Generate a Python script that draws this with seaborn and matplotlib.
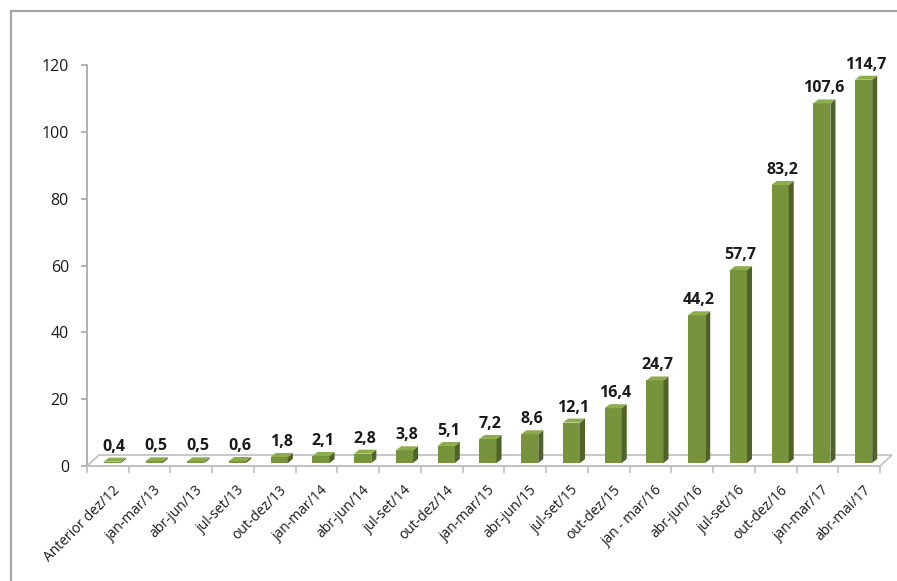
import matplotlib
matplotlib.use("Agg")
import matplotlib.pyplot as plt
import seaborn as sns
import pandas as pd
from matplotlib.patches import Polygon, Rectangle
from matplotlib.transforms import IdentityTransform, ScaledTranslation

# ---- data -------------------------------------------------------------
periods = ["Anterior dez/12", "jan-mar/13", "abr-jun/13", "jul-set/13", "out-dez/13",
           "jan-mar/14", "abr-jun/14", "jul-set/14", "out-dez/14",
           "jan-mar/15", "abr-jun/15", "jul-set/15", "out-dez/15",
           "jan - mar/16", "abr-jun/16", "jul-set/16", "out-dez/16",
           "jan-mar/17", "abr-mai/17"]
values = [0.4, 0.5, 0.5, 0.6, 1.8, 2.1, 2.8, 3.8, 5.1, 7.2, 8.6, 12.1, 16.4,
          24.7, 44.2, 57.7, 83.2, 107.6, 114.7]
y_ticks = [0, 20, 40, 60, 80, 100, 120]

# ---- style ------------------------------------------------------------
FRONT = "#77933C"
SIDE = "#4F6228"
TOP = "#8CAD4B"
GREY = "#A6A6A6"
FLOOR = "#BFBFBF"
TEXT = "#1A1A1A"

sns.set_theme(style="white")
plt.rcParams["font.family"] = ["Open Sans", "DejaVu Sans"]

W, H = 897, 581
DPI = 100
fig = plt.figure(figsize=(W / DPI, H / DPI), dpi=DPI)
ax = fig.add_axes([87 / W, 1 - 466 / H, 793 / W, 401 / H])
ax.patch.set_alpha(0)

df = pd.DataFrame({"periodo": periods, "valor": values})
sns.barplot(data=df, x="periodo", y="valor", color=FRONT, saturation=1,
            width=0.41, linewidth=0, ax=ax, zorder=3)
bars = list(ax.patches)
ax.set_xlim(-0.5, len(periods) - 0.5)
ax.set_ylim(0, 120)
ax.set_xlabel("")
ax.set_ylabel("")

# depth offsets (pixels): bar placement on the floor, bar depth, floor depth
BX, BY = 4.5, 3.0
DX, DY = 5.0, 4.0
FX, FY = 12.0, 11.0

shift = ScaledTranslation(BX / DPI, BY / DPI, fig.dpi_scale_trans)
to_px = ax.transData.transform

# floor outline (drawn behind the bars)
fl = to_px((-0.5, 0))
fr = to_px((len(periods) - 0.5, 0))
floor_pts = [fl, fr, (fr[0] + FX, fr[1] + FY), (fl[0] + FX, fl[1] + FY)]
ax.add_patch(Polygon(floor_pts, closed=True, facecolor="white", edgecolor=FLOOR,
                     linewidth=1.2, transform=IdentityTransform(), zorder=1,
                     clip_on=False))

# 3D bars: front face from seaborn, plus side and top faces
for patch, val in zip(bars, values):
    x0 = patch.get_x()
    x1 = x0 + patch.get_width()
    h = patch.get_height()
    patch.set_transform(ax.transData + shift)
    br = to_px((x1, 0)) + (BX, BY)
    tl = to_px((x0, h)) + (BX, BY)
    tr = to_px((x1, h)) + (BX, BY)
    side = [br, tr, (tr[0] + DX, tr[1] + DY), (br[0] + DX, br[1] + DY)]
    top = [tl, tr, (tr[0] + DX, tr[1] + DY), (tl[0] + DX, tl[1] + DY)]
    ax.add_patch(Polygon(side, closed=True, facecolor=SIDE, linewidth=0,
                         transform=IdentityTransform(), zorder=3, clip_on=False))
    ax.add_patch(Polygon(top, closed=True, facecolor=TOP, linewidth=0,
                         transform=IdentityTransform(), zorder=4, clip_on=False))
    ax.annotate(f"{val:.1f}".replace(".", ","),
                xy=(x0 + patch.get_width() / 2, h),
                xytext=(BX + 2, BY + 11), textcoords="offset pixels",
                ha="center", va="baseline", fontsize=11.5, fontweight="bold",
                color=TEXT, zorder=5)

# axes
for s in ["top", "right"]:
    ax.spines[s].set_visible(False)
ax.spines["left"].set_color(GREY)
ax.spines["bottom"].set_color(FLOOR)
ax.spines["left"].set_linewidth(1.2)
ax.spines["bottom"].set_linewidth(1.2)

ax.set_yticks(y_ticks)
ax.set_yticklabels([str(t) for t in y_ticks])
ax.tick_params(axis="y", length=4, width=1.2, color=GREY, direction="out",
               pad=9, labelsize=11.5, labelcolor=TEXT, left=True)

ax.set_xticks(range(len(periods)))
ax.set_xticklabels(periods)
ax.set_xticks([i - 0.5 for i in range(len(periods) + 1)], minor=True)
ax.tick_params(axis="x", which="major", length=0, pad=12, labelsize=10,
               labelcolor=TEXT)
ax.tick_params(axis="x", which="minor", length=5, width=1.2, color=FLOOR,
               direction="out", bottom=True)
label_shift = ScaledTranslation(4 / DPI, 0, fig.dpi_scale_trans)
for lab in ax.get_xticklabels():
    lab.set_rotation(45)
    lab.set_ha("right")
    lab.set_va("top")
    lab.set_rotation_mode("anchor")
    lab.set_transform(lab.get_transform() + label_shift)

# outer frame
fig.add_artist(Rectangle((11 / W, -0.1), 1.2, 1 - 11 / H + 0.1, fill=False,
                         edgecolor=GREY, linewidth=1.6,
                         transform=fig.transFigure))

fig.savefig("out.png", dpi=DPI)
